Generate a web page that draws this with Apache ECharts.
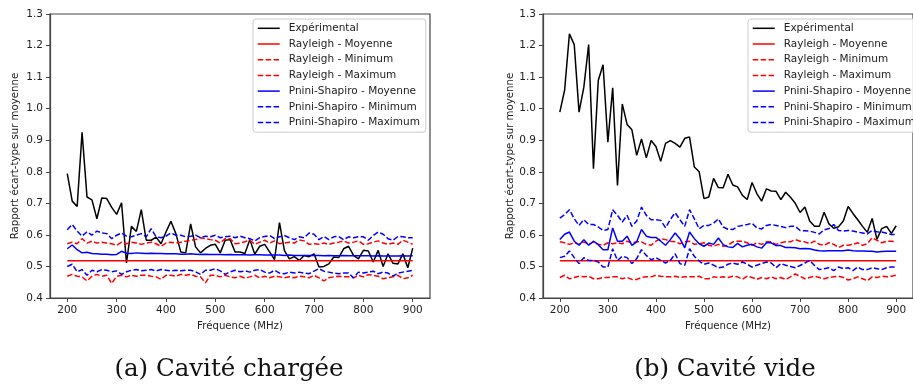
<!DOCTYPE html>
<html>
<head>
<meta charset="utf-8">
<script src="https://cdn.jsdelivr.net/npm/echarts@6/dist/echarts.min.js"></script>
<style>
html,body{margin:0;padding:0;background:#fff;}
#chart{width:913px;height:388px;}
</style>
</head>
<body>
<div id="chart"></div>
<script>
// ---- Data ----
var freq = [200,210,220,230,240,250,260,270,280,290,300,310,320,330,340,350,360,370,380,390,400,410,420,430,440,450,460,470,480,490,500,510,520,530,540,550,560,570,580,590,600,610,620,630,640,650,660,670,680,690,700,710,720,730,740,750,760,770,780,790,800,810,820,830,840,850,860,870,880,890,900];
var xTicks = [200,300,400,500,600,700,800,900];
var yTicks = [0.4,0.5,0.6,0.7,0.8,0.9,1.0,1.1,1.2,1.3];
var seriesNames = ['Expérimental','Rayleigh - Moyenne','Rayleigh - Minimum','Rayleigh - Maximum','Pnini-Shapiro - Moyenne','Pnini-Shapiro - Minimum','Pnini-Shapiro - Maximum'];
var yAxisTitle = 'Rapport écart-type sur moyenne';
var xAxisTitle = 'Fréquence (MHz)';
var captionA = '(a) Cavité chargée';
var captionB = '(b) Cavité vide';

// (a) Cavité chargée
var expA = [0.794,0.707,0.690,0.925,0.720,0.711,0.651,0.717,0.715,0.687,0.665,0.702,0.511,0.627,0.611,0.680,0.583,0.583,0.593,0.572,0.609,0.643,0.604,0.546,0.543,0.635,0.562,0.543,0.557,0.567,0.570,0.543,0.583,0.585,0.546,0.546,0.541,0.585,0.539,0.564,0.570,0.546,0.522,0.639,0.550,0.524,0.531,0.519,0.535,0.531,0.540,0.498,0.500,0.508,0.530,0.528,0.556,0.564,0.535,0.524,0.551,0.549,0.514,0.551,0.500,0.540,0.510,0.508,0.540,0.496,0.558];
var rayMoyA = [0.518,0.518,0.518,0.518,0.518,0.518,0.518,0.518,0.518,0.518,0.518,0.518,0.518,0.518,0.518,0.518,0.518,0.518,0.518,0.518,0.518,0.518,0.518,0.518,0.518,0.518,0.518,0.518,0.518,0.518,0.518,0.518,0.518,0.518,0.518,0.518,0.518,0.518,0.518,0.518,0.518,0.518,0.518,0.518,0.518,0.518,0.518,0.518,0.518,0.518,0.518,0.518,0.518,0.518,0.518,0.518,0.518,0.518,0.518,0.518,0.518,0.518,0.518,0.518,0.518,0.518,0.518,0.518,0.518,0.518,0.518];
var rayMinA = [0.469,0.475,0.469,0.467,0.454,0.469,0.475,0.469,0.472,0.446,0.469,0.472,0.467,0.472,0.469,0.472,0.472,0.469,0.467,0.459,0.472,0.472,0.469,0.475,0.472,0.475,0.469,0.467,0.448,0.472,0.472,0.467,0.472,0.467,0.464,0.469,0.463,0.467,0.472,0.464,0.469,0.464,0.469,0.467,0.464,0.467,0.464,0.469,0.467,0.464,0.472,0.464,0.454,0.464,0.467,0.469,0.467,0.467,0.464,0.472,0.467,0.474,0.472,0.469,0.461,0.464,0.467,0.472,0.461,0.464,0.472];
var rayMaxA = [0.572,0.577,0.572,0.588,0.574,0.580,0.574,0.577,0.574,0.572,0.567,0.577,0.572,0.577,0.574,0.570,0.574,0.577,0.572,0.564,0.574,0.577,0.574,0.577,0.580,0.583,0.585,0.591,0.588,0.585,0.583,0.574,0.588,0.588,0.572,0.574,0.578,0.583,0.570,0.577,0.583,0.574,0.581,0.572,0.574,0.577,0.574,0.584,0.581,0.570,0.572,0.570,0.574,0.570,0.574,0.577,0.581,0.574,0.577,0.581,0.570,0.572,0.577,0.581,0.574,0.570,0.574,0.570,0.583,0.577,0.570];
var psMoyA = [0.556,0.568,0.553,0.543,0.545,0.541,0.540,0.539,0.539,0.537,0.538,0.548,0.542,0.541,0.543,0.542,0.541,0.542,0.541,0.541,0.540,0.540,0.540,0.539,0.539,0.540,0.539,0.538,0.539,0.538,0.538,0.538,0.537,0.538,0.537,0.537,0.537,0.536,0.537,0.537,0.536,0.536,0.536,0.536,0.535,0.536,0.535,0.535,0.535,0.535,0.535,0.535,0.534,0.535,0.534,0.534,0.535,0.534,0.534,0.534,0.534,0.534,0.533,0.534,0.533,0.533,0.533,0.533,0.534,0.533,0.534];
var psMinA = [0.500,0.507,0.483,0.490,0.472,0.488,0.483,0.490,0.488,0.483,0.486,0.475,0.483,0.488,0.490,0.486,0.488,0.490,0.486,0.490,0.488,0.486,0.488,0.486,0.488,0.488,0.483,0.475,0.488,0.488,0.493,0.486,0.475,0.483,0.488,0.483,0.486,0.482,0.488,0.490,0.482,0.479,0.488,0.479,0.477,0.482,0.479,0.482,0.479,0.477,0.485,0.493,0.485,0.482,0.479,0.477,0.479,0.479,0.464,0.482,0.479,0.482,0.485,0.477,0.482,0.479,0.469,0.479,0.482,0.485,0.488];
var psMaxA = [0.616,0.633,0.612,0.596,0.610,0.599,0.612,0.606,0.604,0.588,0.599,0.606,0.596,0.594,0.599,0.604,0.594,0.620,0.594,0.591,0.596,0.606,0.599,0.599,0.594,0.596,0.599,0.591,0.596,0.594,0.599,0.591,0.594,0.596,0.591,0.596,0.591,0.588,0.581,0.591,0.595,0.598,0.588,0.594,0.598,0.591,0.585,0.594,0.591,0.606,0.602,0.585,0.595,0.585,0.594,0.595,0.585,0.594,0.591,0.594,0.594,0.583,0.598,0.609,0.602,0.588,0.583,0.595,0.594,0.591,0.591];

// (b) Cavité vide
var expB = [0.989,1.059,1.237,1.203,0.989,1.068,1.203,0.810,1.089,1.139,0.894,1.066,0.757,1.015,0.950,0.933,0.852,0.904,0.844,0.899,0.880,0.833,0.890,0.899,0.890,0.878,0.906,0.910,0.815,0.800,0.715,0.720,0.779,0.750,0.749,0.792,0.758,0.752,0.725,0.712,0.766,0.731,0.707,0.746,0.739,0.738,0.712,0.735,0.719,0.700,0.671,0.688,0.644,0.627,0.627,0.672,0.635,0.621,0.626,0.644,0.690,0.668,0.648,0.627,0.608,0.652,0.586,0.620,0.627,0.605,0.629];
var rayMoyB = [0.518,0.518,0.518,0.518,0.518,0.518,0.518,0.518,0.518,0.518,0.518,0.518,0.518,0.518,0.518,0.518,0.518,0.518,0.518,0.518,0.518,0.518,0.518,0.518,0.518,0.518,0.518,0.518,0.518,0.518,0.518,0.518,0.518,0.518,0.518,0.518,0.518,0.518,0.518,0.518,0.518,0.518,0.518,0.518,0.518,0.518,0.518,0.518,0.518,0.518,0.518,0.518,0.518,0.518,0.518,0.518,0.518,0.518,0.518,0.518,0.518,0.518,0.518,0.518,0.518,0.518,0.518,0.518,0.518,0.518,0.518];
var rayMinB = [0.465,0.472,0.461,0.465,0.469,0.467,0.469,0.461,0.461,0.465,0.465,0.467,0.467,0.461,0.465,0.459,0.459,0.465,0.467,0.467,0.472,0.469,0.467,0.467,0.469,0.465,0.467,0.467,0.467,0.469,0.461,0.461,0.467,0.465,0.467,0.465,0.469,0.467,0.459,0.469,0.465,0.459,0.465,0.461,0.467,0.461,0.465,0.459,0.467,0.476,0.469,0.461,0.465,0.469,0.465,0.461,0.465,0.467,0.469,0.465,0.457,0.461,0.467,0.461,0.455,0.467,0.465,0.469,0.467,0.469,0.472];
var rayMaxB = [0.578,0.575,0.570,0.575,0.570,0.578,0.570,0.578,0.570,0.567,0.575,0.572,0.575,0.572,0.580,0.575,0.578,0.578,0.570,0.567,0.580,0.588,0.585,0.580,0.578,0.572,0.578,0.580,0.570,0.572,0.575,0.567,0.564,0.570,0.564,0.567,0.578,0.580,0.580,0.575,0.567,0.575,0.570,0.578,0.578,0.570,0.575,0.578,0.578,0.585,0.580,0.578,0.572,0.580,0.570,0.567,0.575,0.570,0.560,0.567,0.567,0.570,0.575,0.567,0.572,0.591,0.583,0.575,0.580,0.580,0.578];
var psMoyB = [0.585,0.602,0.609,0.580,0.567,0.585,0.567,0.580,0.569,0.553,0.553,0.622,0.580,0.580,0.596,0.567,0.578,0.617,0.596,0.592,0.592,0.580,0.567,0.585,0.606,0.588,0.559,0.609,0.588,0.572,0.564,0.574,0.570,0.590,0.569,0.562,0.560,0.573,0.562,0.567,0.570,0.562,0.558,0.575,0.575,0.566,0.566,0.560,0.560,0.559,0.556,0.557,0.556,0.552,0.550,0.549,0.550,0.550,0.550,0.550,0.552,0.550,0.549,0.549,0.548,0.548,0.546,0.547,0.548,0.548,0.548];
var psMinB = [0.528,0.532,0.549,0.528,0.509,0.528,0.519,0.519,0.514,0.498,0.498,0.556,0.519,0.532,0.528,0.509,0.525,0.553,0.535,0.521,0.528,0.519,0.511,0.519,0.540,0.509,0.504,0.556,0.532,0.517,0.507,0.511,0.504,0.496,0.498,0.507,0.511,0.507,0.514,0.507,0.498,0.504,0.509,0.514,0.511,0.496,0.509,0.504,0.500,0.496,0.503,0.511,0.519,0.503,0.490,0.493,0.496,0.487,0.498,0.493,0.496,0.487,0.498,0.490,0.490,0.496,0.493,0.490,0.496,0.498,0.498];
var psMaxB = [0.653,0.664,0.680,0.651,0.630,0.648,0.633,0.633,0.625,0.614,0.617,0.680,0.662,0.641,0.662,0.627,0.644,0.688,0.662,0.648,0.648,0.646,0.623,0.649,0.670,0.648,0.627,0.680,0.651,0.619,0.630,0.630,0.637,0.651,0.625,0.618,0.617,0.627,0.630,0.633,0.637,0.622,0.619,0.630,0.633,0.630,0.627,0.623,0.627,0.627,0.614,0.613,0.612,0.608,0.603,0.616,0.620,0.633,0.614,0.612,0.614,0.612,0.609,0.606,0.603,0.614,0.610,0.609,0.605,0.601,0.601];

// ---- Build chart ----
var FONT = 'DejaVu Sans';
var DASH = [5.5, 2.4];
var styles = [
  {color:'#000000', type:'solid'},
  {color:'#ff0000', type:'solid'},
  {color:'#ff0000', type:DASH},
  {color:'#ff0000', type:DASH},
  {color:'#0000ff', type:'solid'},
  {color:'#0000ff', type:DASH},
  {color:'#0000ff', type:DASH}
];
var setsA = [expA, rayMoyA, rayMinA, rayMaxA, psMoyA, psMinA, psMaxA];
var setsB = [expB, rayMoyB, rayMinB, rayMaxB, psMoyB, psMinB, psMaxB];

function zip(vals){ return freq.map(function(f,i){ return [f, vals[i]]; }); }

var series = [];
[setsA, setsB].forEach(function(sets, gi){
  sets.forEach(function(vals, k){
    series.push({
      name: seriesNames[k],
      type: 'line',
      xAxisIndex: gi, yAxisIndex: gi,
      data: zip(vals),
      symbol: 'none',
      animation: false,
      lineStyle: {color: styles[k].color, width: 1.5, type: styles[k].type},
      itemStyle: {color: styles[k].color},
      z: 2 + k
    });
  });
});

var GRID_TOP = 14, GRID_H = 284, GRID_W = 380;
function makeX(gi){
  return {
    type: 'value', gridIndex: gi, min: 165, max: 935,
    name: xAxisTitle, nameLocation: 'middle', nameGap: 21,
    nameTextStyle: {fontFamily: FONT, fontSize: 10.2, color: '#222'},
    axisLine: {show: true, lineStyle: {color: '#444', width: 1.2}},
    axisTick: {show: true, length: 4, lineStyle: {color: '#444', width: 1}, customValues: xTicks},
    axisLabel: {fontFamily: FONT, fontSize: 10.5, color: '#222', margin: 7, customValues: xTicks},
    splitLine: {show: false}
  };
}
function makeY(gi, gap){
  return {
    type: 'value', gridIndex: gi, min: 0.4, max: 1.3, interval: 0.1,
    name: yAxisTitle, nameLocation: 'middle', nameGap: gap, nameRotate: 90,
    nameTextStyle: {fontFamily: FONT, fontSize: 10.2, color: '#222'},
    axisLine: {show: true, lineStyle: {color: '#444', width: 1.2}},
    axisTick: {show: true, length: 4, lineStyle: {color: '#444', width: 1}, customValues: yTicks},
    axisLabel: {fontFamily: FONT, fontSize: 10.5, color: '#222', margin: 7, customValues: yTicks,
      formatter: function(v){ return v.toFixed(1); }},
    splitLine: {show: false}
  };
}
function makeLegend(left){
  return {
    show: true, orient: 'vertical', left: left, top: 19,
    data: seriesNames,
    itemWidth: 22, itemHeight: 10, itemGap: 3.7,
    padding: [3.3, 6, 3.7, 4],
    backgroundColor: 'rgba(255,255,255,0.85)',
    borderColor: '#cccccc', borderWidth: 1, borderRadius: 3,
    selectedMode: false,
    itemStyle: {opacity: 0},
    lineStyle: {width: 1.5},
    textStyle: {fontFamily: FONT, fontSize: 10.5, color: '#222', lineHeight: 12, padding: [0,0,0,4]}
  };
}

var option = {
  backgroundColor: '#ffffff',
  animation: false,
  grid: [
    {left: 50, top: GRID_TOP, width: GRID_W, height: GRID_H, show: true, borderColor: '#444', borderWidth: 1.2, backgroundColor: 'transparent'},
    {left: 543, top: GRID_TOP, width: GRID_W, height: GRID_H, show: true, borderColor: '#444', borderWidth: 1.2, backgroundColor: 'transparent'}
  ],
  xAxis: [makeX(0), makeX(1)],
  yAxis: [makeY(0, 30), makeY(1, 28)],
  legend: [makeLegend(253), makeLegend(748)],
  series: series,
  graphic: [
    {type: 'text', x: 229, y: 370, style: {text: captionA, fontFamily: 'DejaVu Serif', fontSize: 24.5, fill: '#111', align: 'center', verticalAlign: 'middle'}},
    {type: 'text', x: 725, y: 370, style: {text: captionB, fontFamily: 'DejaVu Serif', fontSize: 24.5, fill: '#111', align: 'center', verticalAlign: 'middle'}}
  ]
};

var chart = echarts.init(document.getElementById('chart'), null, {renderer: 'canvas'});
chart.setOption(option);
</script>
</body>
</html>
